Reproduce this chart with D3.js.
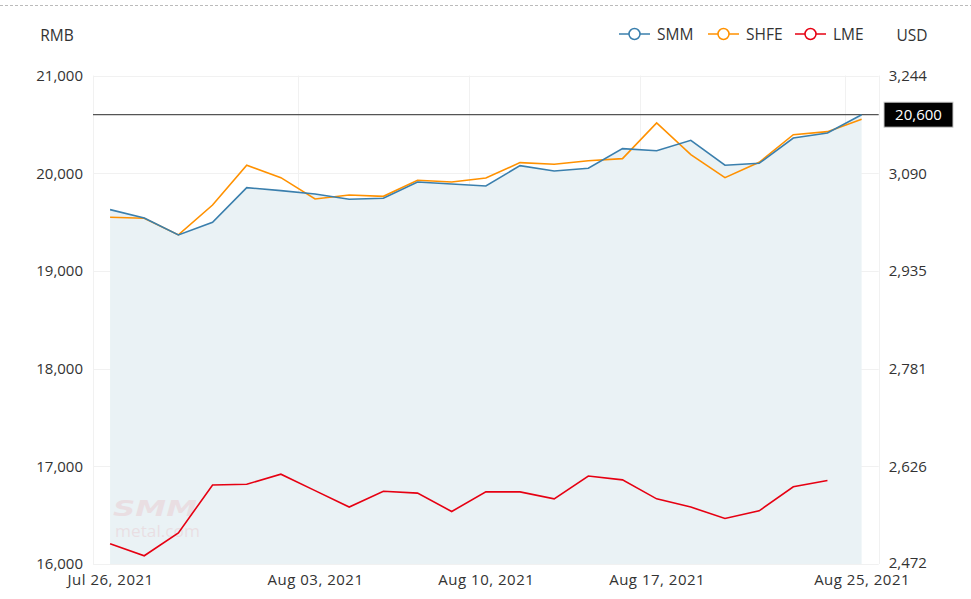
<!DOCTYPE html>
<html>
<head>
<meta charset="utf-8">
<script src="https://cdn.jsdelivr.net/npm/d3@7"></script>
<style>
  body { margin: 0; background: #fff; font-family: "Open Sans", "Segoe UI", sans-serif; }
  text { fill: #333; }
</style>
</head>
<body>
<div id="container"></div>
<script>
/* DATA */
const dates = ["Jul 26, 2021", "Jul 27, 2021", "Jul 28, 2021", "Jul 29, 2021", "Jul 30, 2021",
  "Aug 02, 2021", "Aug 03, 2021", "Aug 04, 2021", "Aug 05, 2021", "Aug 06, 2021",
  "Aug 09, 2021", "Aug 10, 2021", "Aug 11, 2021", "Aug 12, 2021", "Aug 13, 2021",
  "Aug 16, 2021", "Aug 17, 2021", "Aug 18, 2021", "Aug 19, 2021", "Aug 20, 2021",
  "Aug 23, 2021", "Aug 24, 2021", "Aug 25, 2021"];
const smm = [19628, 19543, 19369, 19498, 19853, 19822, 19788, 19734, 19744, 19911, 19890, 19870,
  20078, 20023, 20051, 20252, 20231, 20338, 20082, 20102, 20361, 20412, 20600];
const shfe = [19550, 19540, 19369, 19675, 20082, 19955, 19737, 19778, 19764, 19928, 19911, 19952,
  20109, 20092, 20129, 20150, 20515, 20191, 19955, 20112, 20395, 20426, 20553];
const lme = [2504, 2485, 2521, 2597, 2598, 2614, 2588, 2562, 2587, 2584, 2555, 2586,
  2586, 2575, 2611, 2605, 2575, 2562, 2544, 2556, 2594, 2604, null];
const xTickLabels = ["Jul 26, 2021", "Aug 03, 2021", "Aug 10, 2021", "Aug 17, 2021", "Aug 25, 2021"];
const leftDomain = [16000, 21000];
const rightDomain = [2472, 3244];
const markValue = 20600;

/* CONSTANTS */
const width = 971, height = 599,
  margin = {top: 75.6, bottom: 35, left: 93, right: 93};

const colors = {SMM: "#3a7fad", SHFE: "#ff9100", LME: "#e60012"};

const svg = d3.select("#container").append("svg")
  .attr("width", width).attr("height", height);

// scales
const xScale = d3.scalePoint()
  .domain(dates)
  .range([margin.left, width - margin.right + 0.7])
  .padding(0.5);
const step = xScale.step();

const yLeft = d3.scaleLinear().domain(leftDomain).range([height - margin.bottom, margin.top]);
const yRight = d3.scaleLinear().domain(rightDomain).range([height - margin.bottom, margin.top]);

const plotL = margin.left, plotR = width - margin.right + 0.7;

// top dashed line
svg.append("line")
  .attr("x1", 0).attr("x2", width).attr("y1", 5.5).attr("y2", 5.5)
  .attr("stroke", "#bbb").attr("stroke-dasharray", "3,2");

// horizontal grid
const leftTicks = d3.range(leftDomain[0], leftDomain[1] + 1, 1000);
svg.append("g").selectAll("line")
  .data(leftTicks)
  .join("line")
  .attr("x1", plotL).attr("x2", plotR)
  .attr("y1", d => Math.round(yLeft(d)) + 0.5).attr("y2", d => Math.round(yLeft(d)) + 0.5)
  .attr("stroke", "#f1f1f1");

// vertical grid (between categories, before each labelled date) + borders
svg.append("g").selectAll("line")
  .data(xTickLabels.map(d => xScale(d) - step / 2).concat([plotR]))
  .join("line")
  .attr("x1", d => Math.round(d) + 0.5).attr("x2", d => Math.round(d) + 0.5)
  .attr("y1", margin.top).attr("y2", height - margin.bottom)
  .attr("stroke", "#f1f1f1");

// area under SMM
const area = d3.area()
  .x((d, i) => xScale(dates[i]))
  .y0(yLeft(leftDomain[0]))
  .y1(d => yLeft(d));
svg.append("path")
  .datum(smm)
  .attr("d", area)
  .attr("fill", "#eaf2f5");

// watermark
const wm = svg.append("g").attr("opacity", 0.08);
wm.append("text").attr("x", 113).attr("y", 516)
  .attr("font-size", 22).attr("font-weight", 900).attr("font-style", "italic")
  .attr("font-family", "DejaVu Sans, sans-serif")
  .attr("textLength", 84).attr("lengthAdjust", "spacingAndGlyphs")
  .style("fill", "#e60012").text("SMM");
wm.append("text").attr("x", 115).attr("y", 537)
  .attr("font-size", 17)
  .attr("textLength", 85).attr("lengthAdjust", "spacingAndGlyphs")
  .style("fill", "#e60012").text("metal.com");

// mark line
svg.append("line")
  .attr("x1", plotL).attr("x2", plotR)
  .attr("y1", yLeft(markValue)).attr("y2", yLeft(markValue))
  .attr("stroke", "#555").attr("stroke-width", 1.2);

// lines
const lineLeft = d3.line().x((d, i) => xScale(dates[i])).y(d => yLeft(d));
const lineRight = d3.line()
  .defined(d => d !== null)
  .x((d, i) => xScale(dates[i])).y(d => yRight(d));

svg.append("path").datum(shfe).attr("d", lineLeft)
  .attr("fill", "none").attr("stroke", colors.SHFE).attr("stroke-width", 1.6);
svg.append("path").datum(smm).attr("d", lineLeft)
  .attr("fill", "none").attr("stroke", colors.SMM).attr("stroke-width", 1.6);
svg.append("path").datum(lme).attr("d", lineRight)
  .attr("fill", "none").attr("stroke", colors.LME).attr("stroke-width", 1.6);

// axes
const axisLeft = d3.axisLeft(yLeft).tickValues(leftTicks).tickSize(0).tickPadding(10)
  .tickFormat(d3.format(","));
const gl = svg.append("g").attr("transform", `translate(${plotL},0)`).call(axisLeft);

const rightTicks = d3.range(0, 6).map(i => rightDomain[0] + i * (rightDomain[1] - rightDomain[0]) / 5);
const axisRight = d3.axisRight(yRight).tickValues(rightTicks).tickSize(0).tickPadding(10)
  .tickFormat(d3.format(",.0f"));
const gr = svg.append("g").attr("transform", `translate(${plotR},0)`).call(axisRight);

const axisBottom = d3.axisBottom(xScale).tickValues(xTickLabels).tickSize(0).tickPadding(10);
const gb = svg.append("g").attr("transform", `translate(0,${height - margin.bottom})`).call(axisBottom);

[gl, gr, gb].forEach(g => {
  g.select(".domain").remove();
  g.selectAll("text").attr("font-size", 15).attr("font-family", "Open Sans, sans-serif").style("fill", "#333");
});
gb.selectAll("text").attr("letter-spacing", 0.5);
// keep the lowest right label just clear of the date below it
gr.selectAll("text").filter(d => d === rightDomain[0]).attr("dy", "0.2em");

// mark label
const markY = yLeft(markValue);
svg.append("rect")
  .attr("x", 884).attr("y", markY - 12.5).attr("width", 69).attr("height", 25)
  .attr("fill", "#000").attr("stroke", "#ccc");
svg.append("text")
  .attr("x", 918.5).attr("y", markY + 5.5)
  .attr("text-anchor", "middle").attr("font-size", 15)
  .style("fill", "#fff").text(d3.format(",")(markValue));

// unit labels
svg.append("text").attr("x", 57).attr("y", 41).attr("text-anchor", "middle")
  .attr("font-size", 15.5).text("RMB");
svg.append("text").attr("x", 912).attr("y", 41).attr("text-anchor", "middle")
  .attr("font-size", 15.5).text("USD");

// legend
const legendItems = [
  {name: "SMM", x: 619},
  {name: "SHFE", x: 708},
  {name: "LME", x: 795}
];
const lg = svg.append("g").selectAll("g")
  .data(legendItems)
  .join("g")
  .attr("transform", d => `translate(${d.x},34)`);
lg.append("line").attr("x1", 0).attr("x2", 31)
  .attr("stroke", d => colors[d.name]).attr("stroke-width", 1.5);
lg.append("circle").attr("cx", 15.5).attr("r", 5.5)
  .attr("fill", "#fff").attr("stroke", d => colors[d.name]).attr("stroke-width", 1.5);
lg.append("text").attr("x", 38).attr("y", 6)
  .attr("font-size", 15.5).text(d => d.name);
</script>
</body>
</html>
